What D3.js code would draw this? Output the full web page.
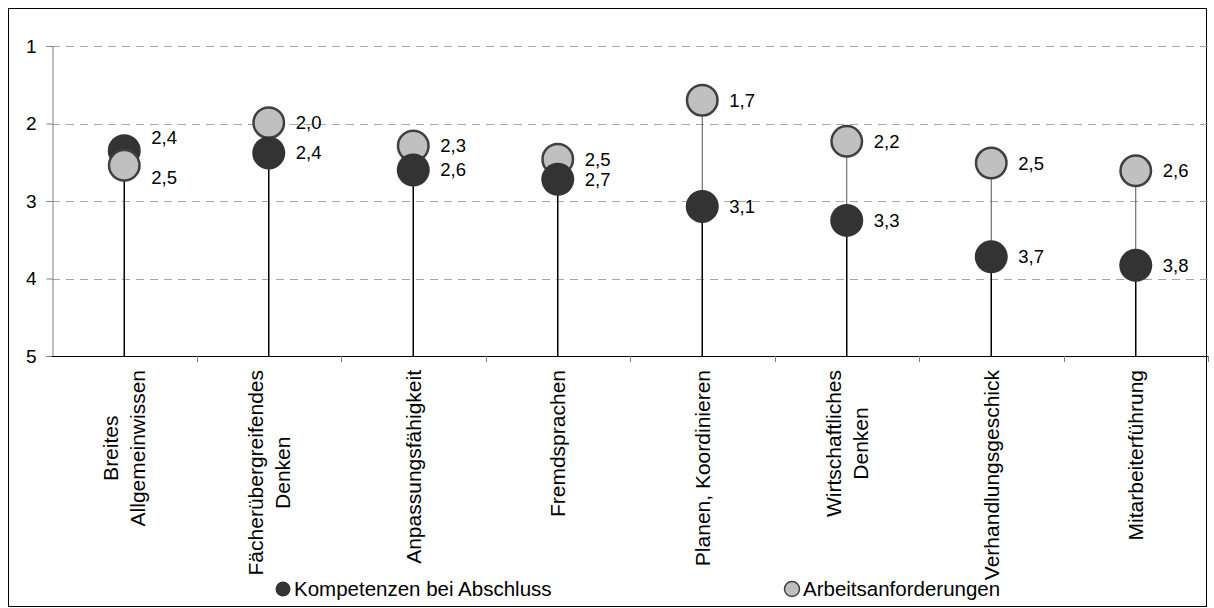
<!DOCTYPE html>
<html><head><meta charset="utf-8">
<script src="https://cdn.jsdelivr.net/npm/d3@7"></script>
<style>
html,body{margin:0;padding:0;background:#fff;}
svg text{font-family:"Liberation Sans",Arial,sans-serif;fill:#000;}
</style></head>
<body>
<svg id="chart" width="1214" height="608"></svg>
<script>
const categories = ["Breites\nAllgemeinwissen","Fächerübergreifendes\nDenken","Anpassungsfähigkeit","Fremdsprachen","Planen, Koordinieren","Wirtschaftliches\nDenken","Verhandlungsgeschick","Mitarbeiterführung"];
const kompetenzen = [2.35, 2.38, 2.60, 2.72, 3.07, 3.25, 3.72, 3.83];
const anforderungen = [2.54, 1.99, 2.29, 2.46, 1.70, 2.23, 2.51, 2.61];
const yTicks = [1, 2, 3, 4, 5];
const seriesNames = ["Kompetenzen bei Abschluss", "Arbeitsanforderungen"];

const svg = d3.select("#chart");
const m = {left: 52, right: 1208, top: 46, bottom: 356};
const DARK = "#333333", LIGHT = "#c0c0c0", OUTLINE = "#404040";

svg.append("rect").attr("x", 8.5).attr("y", 8.5).attr("width", 1198).attr("height", 598)
  .attr("fill", "none").attr("stroke", "#000").attr("stroke-width", 1);

const x = d3.scaleBand().domain(categories).range([m.left, m.right]).paddingInner(0).paddingOuter(0);
const y = d3.scaleLinear().domain([1, 5]).range([m.top, m.bottom]);
const fmt = v => d3.format(".1f")(v).replace(".", ",");

// gridlines
svg.append("g").selectAll("line").data(yTicks.filter(t => t < 5)).join("line")
  .attr("x1", m.left).attr("x2", m.right)
  .attr("y1", d => Math.round(y(d)) + 0.5).attr("y2", d => Math.round(y(d)) + 0.5)
  .attr("stroke", "#a6a6a6").attr("stroke-dasharray", "8,6").attr("stroke-width", 1);

// y axis
const yAxis = svg.append("g").attr("transform", `translate(${m.left + 0.5},0)`)
  .call(d3.axisLeft(y).tickValues(yTicks).tickSize(6).tickPadding(10).tickFormat(d3.format("d")));
yAxis.select(".domain").attr("stroke", "#808080");
yAxis.selectAll(".tick line").attr("stroke", "#808080");
yAxis.selectAll(".tick text").attr("font-size", 19).style("font-family", '"Liberation Sans",Arial,sans-serif').attr("fill", "#000");

// x axis (boundary ticks)
const xa = svg.append("g");
xa.append("line").attr("x1", m.left).attr("x2", m.right).attr("y1", m.bottom + 0.5).attr("y2", m.bottom + 0.5)
  .attr("stroke", "#000").attr("stroke-width", 1);
const bounds = categories.map(c => x(c)).concat([m.right]);
xa.selectAll("line.tk").data(bounds.slice(1)).join("line").attr("class", "tk")
  .attr("x1", d => Math.round(d) + 0.5).attr("x2", d => Math.round(d) + 0.5)
  .attr("y1", m.bottom).attr("y2", m.bottom + 6).attr("stroke", "#808080");

// category labels (rotated, multiline, centered lines, top of block at y=370)
const fs = 21, lh = 27, cap = 0.716 * fs;
categories.forEach(c => {
  const lines = c.split("\n");
  const cx = x(c) + x.bandwidth() / 2;
  const g = svg.append("g");
  const texts = lines.map(ln => g.append("text").attr("font-size", fs).attr("text-anchor", "middle").text(ln));
  const maxLen = d3.max(texts, t => t.node().getComputedTextLength());
  const midY = 370 + maxLen / 2;
  texts.forEach((t, i) => {
    const bx = cx + (i - (lines.length - 1) / 2) * lh + cap / 2;
    t.attr("transform", `translate(${bx},${midY}) rotate(-90)`);
  });
});

// stems and circles
const r = 16.5;
const data = categories.map((c, i) => ({c, k: kompetenzen[i], a: anforderungen[i]}));
const stems = svg.append("g");
data.forEach(d => {
  const cx = x(d.c) + x.bandwidth() / 2;
  const lower = Math.max(d.k, d.a), upper = Math.min(d.k, d.a);
  stems.append("line").attr("x1", cx).attr("x2", cx).attr("y1", y(5)).attr("y2", y(lower))
    .attr("stroke", "#000").attr("stroke-width", 1.5);
  stems.append("line").attr("x1", cx).attr("x2", cx).attr("y1", y(lower)).attr("y2", y(upper))
    .attr("stroke", "#555").attr("stroke-width", 1);
});

const pts = svg.append("g");
data.forEach(d => {
  const cx = x(d.c) + x.bandwidth() / 2;
  const items = [
    {v: d.k, fill: DARK, stroke: "none", sw: 0},
    {v: d.a, fill: LIGHT, stroke: OUTLINE, sw: 2.5}
  ].sort((p, q) => p.v - q.v);
  items.forEach(p => {
    pts.append("circle").attr("cx", cx).attr("cy", y(p.v))
      .attr("r", p.sw ? r - 1.25 : r).attr("fill", p.fill)
      .attr("stroke", p.stroke).attr("stroke-width", p.sw);
  });
  let yk = y(d.k), ya = y(d.a);
  if (Math.abs(yk - ya) < 20) {
    const mid = (yk + ya) / 2;
    if (d.k <= d.a) { yk = mid - 20; ya = mid + 20; } else { yk = mid + 20; ya = mid - 20; }
  }
  [[d.k, yk], [d.a, ya]].forEach(([v, ly]) => {
    pts.append("text").attr("x", cx + 27).attr("y", ly).attr("dy", "0.35em")
      .attr("font-size", 18.5).text(fmt(v));
  });
});

// legend
const leg = svg.append("g");
const legItems = [
  {name: seriesNames[0], cx: 283, fill: DARK, stroke: "none", sw: 0},
  {name: seriesNames[1], cx: 792, fill: LIGHT, stroke: OUTLINE, sw: 1.5}
];
legItems.forEach(l => {
  leg.append("circle").attr("cx", l.cx).attr("cy", 589).attr("r", 7.5)
    .attr("fill", l.fill).attr("stroke", l.stroke).attr("stroke-width", l.sw);
  leg.append("text").attr("x", l.cx + 11).attr("y", 596).attr("font-size", 20.5).text(l.name);
});
</script>
</body></html>
